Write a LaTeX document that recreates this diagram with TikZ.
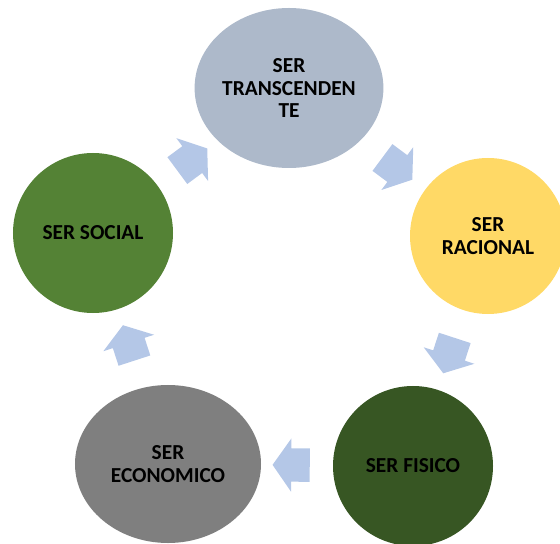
\documentclass[tikz,border=0pt]{standalone}
\usepackage{fontspec}
\setmainfont{Carlito}
\usetikzlibrary{shapes.geometric,shapes.arrows}
\definecolor{grisazul}{HTML}{ADB9CA}
\definecolor{amarillo}{HTML}{FFD966}
\definecolor{verde}{HTML}{548235}
\definecolor{verdeosc}{HTML}{375623}
\definecolor{gris}{HTML}{7F7F7F}
\definecolor{azulclaro}{HTML}{B4C7E7}
\tikzset{
  ser/.style={circle, inner sep=0pt, minimum size=40mm, align=center, text=black,
    font=\bfseries\fontsize{15.2}{15.8}\selectfont},
  serelip/.style={ser, ellipse},
  flecha/.style={single arrow, fill=azulclaro, draw=none, inner xsep=0pt, inner ysep=4.1mm,
    minimum height=9.3mm, single arrow head extend=2.5mm,
    single arrow tip angle=110, sloped, allow upside down}
}
\begin{document}
\begin{tikzpicture}[x=0.25mm,y=-0.25mm]
\useasboundingbox (0,0) rectangle (560,544);
% los cinco seres
\node[serelip, fill=grisazul, minimum width=45mm, minimum height=40mm] (trans) at (289,88) {SER\\TRANSCENDEN\\TE};
\node[ser, fill=amarillo, minimum size=39mm] (rac) at (488,236) {SER\\RACIONAL};
\node[ser, fill=verdeosc] (fis) at (413,466) {SER FISICO};
\node[serelip, fill=gris, minimum width=46.5mm, minimum height=39.5mm] (eco) at (168,464) {SER\\ECONOMICO};
\node[ser, fill=verde] (soc) at (93,233) {SER SOCIAL};
% flechas del ciclo
\path (trans) -- node[flecha] (f1) {} (rac);
\path (rac) -- node[flecha] (f2) {} (fis);
\path (fis) -- node[flecha] (f3) {} (eco);
\path (eco) -- node[flecha] (f4) {} (soc);
\path (soc) -- node[flecha] (f5) {} (trans);
\end{tikzpicture}
\end{document}
